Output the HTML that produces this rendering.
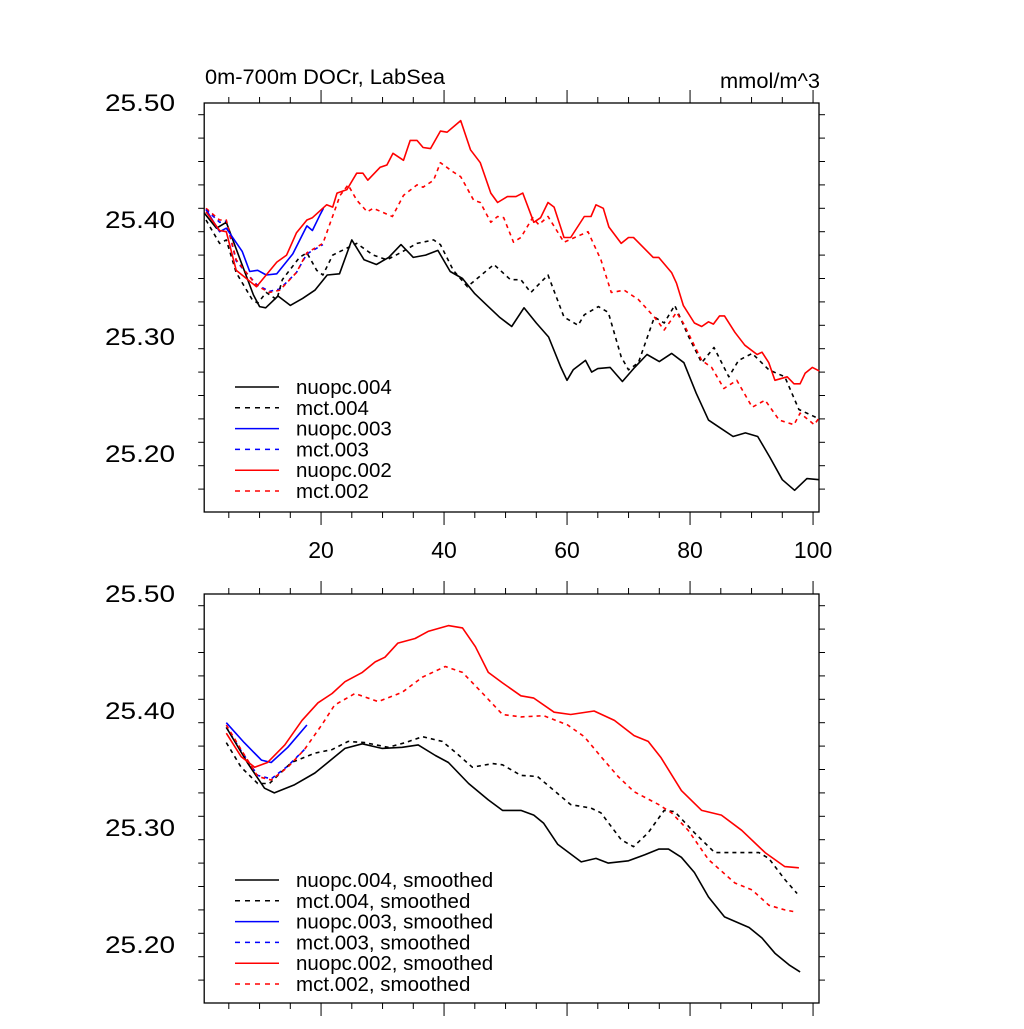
<!DOCTYPE html>
<html><head><meta charset="utf-8"><style>
html,body{margin:0;padding:0;background:#fff;}
svg text{font-family:"Liberation Sans",sans-serif;fill:#000;}
</style></head><body>
<svg id="chart" width="1024" height="1024" viewBox="0 0 1024 1024" xmlns="http://www.w3.org/2000/svg"></svg>
<script>
// ---- data: top panel (raw) ----
const n004Yr=[1,3,4.6,7,9,10,11,13,15,17,19,21,23,25,27,29,31,33,35,37,39,41,43,45,47,49,51,53,55,57,59,60,61,63,64,65,67,69,71,73,75,77,79,81,83,85,87,89,91,93,95,97,99,101];
const n004Val=[25.406,25.393,25.398,25.364,25.336,25.326,25.325,25.335,25.327,25.333,25.340,25.353,25.354,25.383,25.366,25.362,25.368,25.379,25.368,25.370,25.374,25.356,25.350,25.337,25.327,25.317,25.309,25.325,25.312,25.300,25.274,25.263,25.272,25.280,25.270,25.273,25.274,25.262,25.274,25.285,25.279,25.286,25.278,25.252,25.229,25.222,25.215,25.218,25.215,25.197,25.178,25.169,25.179,25.178];
const m004Yr=[1.3,3.5,4.6,6.2,8.8,9.7,11.1,12.8,13.7,16.5,17.7,19.3,20.3,21.9,24.2,25.8,28.5,30.7,32.9,35.6,38.3,39.4,41.5,43.8,48.1,50.8,52.5,54.1,56.9,59.5,61.8,62.8,65.1,66.7,68.8,70,71.6,74.2,75.8,77.5,79.8,81.9,83.9,86.3,87.9,90.1,92.8,95.4,97.7,100.6];
const m004Val=[25.400,25.380,25.383,25.355,25.332,25.329,25.338,25.332,25.349,25.368,25.372,25.357,25.353,25.370,25.376,25.380,25.370,25.366,25.372,25.380,25.383,25.379,25.357,25.343,25.362,25.349,25.349,25.338,25.353,25.317,25.310,25.319,25.326,25.321,25.283,25.272,25.278,25.317,25.312,25.327,25.300,25.278,25.291,25.266,25.280,25.286,25.272,25.266,25.238,25.231];
const n003Yr=[1.3,3.5,4.6,7.2,8.4,9.7,11.1,12.8,15.4,17.7,18.6,19.8,20.4];
const n003Val=[25.409,25.390,25.393,25.373,25.356,25.357,25.353,25.354,25.371,25.395,25.391,25.404,25.410];
const m003Yr=[1.3,3.5,4.6,6.2,9.5,11.6,13.3,16,17.7,20.3];
const m003Val=[25.409,25.398,25.399,25.365,25.345,25.339,25.341,25.355,25.371,25.379];
const n002Yr=[1.3,3.5,4.6,6.2,9.5,12.8,14.4,16,17.7,18.6,20.9,21.9,22.6,24.2,25.8,26.8,27.6,29.6,30.7,31.7,33.4,34.5,35.6,36.6,37.8,39.4,40.5,42.7,44.3,45.9,47.6,48.7,50.3,51.7,52.8,54.6,55.7,56.9,57.9,59.5,60.6,62.8,63.9,64.7,65.9,66.8,68.8,70,70.8,74,74.9,77,77.8,78.9,80.7,81.9,83,83.8,84.8,85.6,87.3,88.9,90.9,91.7,92.8,93.8,95.8,96.9,97.9,98.7,99.9,101];
const n002Val=[25.407,25.391,25.390,25.357,25.343,25.364,25.370,25.389,25.400,25.402,25.413,25.411,25.423,25.426,25.440,25.440,25.434,25.445,25.447,25.457,25.451,25.468,25.468,25.462,25.461,25.476,25.475,25.485,25.460,25.449,25.423,25.415,25.420,25.420,25.423,25.398,25.402,25.415,25.411,25.385,25.385,25.403,25.403,25.413,25.410,25.394,25.380,25.385,25.385,25.368,25.368,25.355,25.346,25.327,25.312,25.309,25.313,25.311,25.318,25.318,25.304,25.293,25.285,25.287,25.278,25.263,25.266,25.260,25.260,25.269,25.274,25.271];
const m002Yr=[1.3,3.5,4.6,6.2,9.5,11.6,13.3,16,17.7,20.3,23.1,24.4,25.8,27.5,28.5,31.6,33.4,35.6,36.6,38.3,39.4,41.5,42.7,44.8,45.9,47.6,48.7,49.7,51.3,52.5,54.4,55.4,56.9,59.5,63.4,65.5,67.2,69.3,71.6,74.2,75.8,77.8,78.9,81.9,83.5,85.5,87.6,90.1,92.2,94.5,96.9,97.9,100.2,101];
const m002Val=[25.410,25.400,25.400,25.366,25.344,25.338,25.340,25.355,25.372,25.380,25.421,25.430,25.417,25.407,25.410,25.403,25.421,25.430,25.428,25.434,25.449,25.441,25.437,25.417,25.415,25.398,25.403,25.402,25.381,25.385,25.402,25.396,25.403,25.381,25.390,25.366,25.338,25.340,25.332,25.317,25.306,25.321,25.312,25.280,25.274,25.256,25.263,25.240,25.246,25.229,25.225,25.235,25.225,25.231];
// ---- data: bottom panel (smoothed) ----
const sn004Yr=[4.6,8,10.8,12.4,15.7,19,21.1,23.9,26.7,29.9,33.2,35.8,38.6,40.7,44,47.2,49.5,52.5,54.6,56.2,58.5,62.3,64.7,66.7,70,72.6,74.9,76.5,78.6,80.7,83,85.6,89.6,91.7,93.8,96.1,97.9];
const sn004Val=[25.386,25.356,25.334,25.330,25.337,25.347,25.356,25.368,25.372,25.368,25.369,25.371,25.362,25.356,25.338,25.324,25.315,25.315,25.311,25.304,25.286,25.271,25.274,25.270,25.272,25.277,25.282,25.282,25.275,25.262,25.241,25.224,25.215,25.206,25.193,25.183,25.177];
const sm004Yr=[4.6,7,9.7,11.6,15.2,19,21.8,24.4,27.1,30.9,33.7,36.5,39.7,41.8,44.6,47.9,49.5,52.5,55.2,60.6,63.9,65.5,68.8,70.8,73.2,75.8,77.5,80.7,84,87.3,91.2,92.8,95.4,97.4];
const sm004Val=[25.373,25.352,25.338,25.338,25.356,25.364,25.367,25.374,25.373,25.369,25.373,25.378,25.374,25.365,25.352,25.355,25.354,25.345,25.344,25.320,25.317,25.313,25.290,25.284,25.296,25.315,25.314,25.296,25.279,25.279,25.279,25.274,25.256,25.244];
const sn003Yr=[4.6,7.5,10.3,11.9,14.6,17.7];
const sn003Val=[25.390,25.373,25.358,25.356,25.369,25.388];
const sm003Yr=[4.6,7,9.7,11.9,14.6,17.3];
const sm003Val=[25.386,25.366,25.345,25.342,25.353,25.367];
const sn002Yr=[4.6,7,9.2,11.3,14.1,16.9,19.5,21.8,23.9,26.7,28.8,30.4,32.5,35.3,37.4,40.7,43,45.1,47.2,49.5,52.5,54.6,57.9,60.6,64.4,67.7,70.9,73.2,75.3,78.6,81.9,85.1,88.4,92.2,95.4,97.7];
const sn002Val=[25.381,25.361,25.352,25.356,25.371,25.392,25.407,25.415,25.425,25.433,25.442,25.446,25.458,25.462,25.468,25.473,25.471,25.455,25.433,25.424,25.413,25.411,25.399,25.397,25.400,25.392,25.379,25.374,25.360,25.332,25.315,25.311,25.298,25.279,25.267,25.266];
const sm002Yr=[4.6,7,9.7,11.9,14.6,17.3,20.1,22.2,25.5,29.3,33.2,36.5,40.2,43,46.3,49.5,52.5,56.2,60.1,62.8,65.5,68.3,70.9,74.9,77,79.7,83,87.3,90.1,92.8,95.4,97.4];
const sm002Val=[25.388,25.367,25.344,25.341,25.352,25.367,25.388,25.405,25.415,25.408,25.416,25.429,25.438,25.433,25.415,25.397,25.395,25.396,25.388,25.378,25.361,25.344,25.331,25.320,25.313,25.298,25.273,25.253,25.247,25.234,25.230,25.228];
const yTicks=[25.20,25.30,25.40,25.50];
const xTicks=[20,40,60,80,100];
const topLegend=["nuopc.004","mct.004","nuopc.003","mct.003","nuopc.002","mct.002"];
const botLegend=["nuopc.004, smoothed","mct.004, smoothed","nuopc.003, smoothed","mct.003, smoothed","nuopc.002, smoothed","mct.002, smoothed"];

const NS="http://www.w3.org/2000/svg";
const svg=document.getElementById('chart');
function mk(tag,attrs,parent){const e=document.createElementNS(NS,tag);for(const k in attrs)e.setAttribute(k,attrs[k]);(parent||svg).appendChild(e);return e;}
const X0=204.2,XS=6.15;
function xs(yr){return X0+(yr-1)*XS;}
function makeY(top){return v=>top+(25.5-v)*1170;}
const styles=[{c:"#000",d:null},{c:"#000",d:"4,4"},{c:"#0000ff",d:null},{c:"#0000ff",d:"4,4"},{c:"#ff0000",d:null},{c:"#ff0000",d:"4,4"}];

function panel(name,top,bottom,series,legend,legY,showXLabels){
  const g=mk('g',{});
  
  
  const ys=makeY(top);
  const L=204.2,R=819;
  const fr=mk('rect',{x:L,y:top,width:R-L,height:bottom-top,fill:'none',stroke:'#000','stroke-width':1.3},g);
  
  
  for(let yr=5;yr<=100;yr+=5){
    const major=yr%20===0;const x=xs(yr);const len=major?13:6;
    mk('line',{x1:x,y1:bottom,x2:x,y2:bottom+len,stroke:'#000','stroke-width':1},g);
    mk('line',{x1:x,y1:top,x2:x,y2:top-len,stroke:'#000','stroke-width':1},g);
  }
  for(let v=25.15;v<=25.501;v+=0.02){
    const vv=Math.round(v*100)/100;const y=ys(vv);
    if(y<top-0.5||y>bottom+0.5)continue;
    const major=Math.abs(vv*10-Math.round(vv*10))<0.01;const len=major?13:6;
    mk('line',{x1:L,y1:y,x2:L-len,y2:y,stroke:'#000','stroke-width':1},g);
    mk('line',{x1:R,y1:y,x2:R+len,y2:y,stroke:'#000','stroke-width':1},g);
  }
  yTicks.forEach(v=>{
    const t=mk('text',{x:105,y:ys(v)+8,'font-size':24,textLength:70,lengthAdjust:'spacingAndGlyphs'},g);
    t.textContent=v.toFixed(2);
    
    
  });
  if(showXLabels){
    xTicks.forEach(v=>{
      const t=mk('text',{x:xs(v),y:bottom+46,'text-anchor':'middle','font-size':23},g);
      t.textContent=String(v);
      
      
    });
  }
  const order=[3,1,0,5,2,4];
  order.forEach(i=>{
    const s=series[i];
    const pts=s[0].map((yr,k)=>xs(yr).toFixed(1)+','+ys(s[1][k]).toFixed(1)).join(' ');
    const p=mk('polyline',{points:pts,fill:'none',stroke:styles[i].c,'stroke-width':1.6,'stroke-linejoin':'round'},g);
    if(styles[i].d)p.setAttribute('stroke-dasharray',styles[i].d);
    
    
  });
  legend.forEach((lab,i)=>{
    const y=legY+i*20.8;
    const lg=mk('g',{},g);
    
    
    const ln=mk('line',{x1:235,y1:y,x2:279,y2:y,stroke:styles[i].c,'stroke-width':1.5},lg);
    if(styles[i].d)ln.setAttribute('stroke-dasharray','5,5');
    const t=mk('text',{x:296,y:y+7,'font-size':20.5},lg);
    t.textContent=lab;
  });
}
panel('top-panel',103,512,[[n004Yr,n004Val],[m004Yr,m004Val],[n003Yr,n003Val],[m003Yr,m003Val],[n002Yr,n002Val],[m002Yr,m002Val]],topLegend,387,true);
panel('bottom-panel',594,1003,[[sn004Yr,sn004Val],[sm004Yr,sm004Val],[sn003Yr,sn003Val],[sm003Yr,sm003Val],[sn002Yr,sn002Val],[sm002Yr,sm002Val]],botLegend,880,false);
const t1=mk('text',{x:205,y:84,'font-size':21,textLength:240,lengthAdjust:'spacingAndGlyphs'});
t1.textContent='0m-700m DOCr, LabSea';


const t2=mk('text',{x:720,y:88,'font-size':21,textLength:100,lengthAdjust:'spacingAndGlyphs'});
t2.textContent='mmol/m^3';


</script>
</body></html>
